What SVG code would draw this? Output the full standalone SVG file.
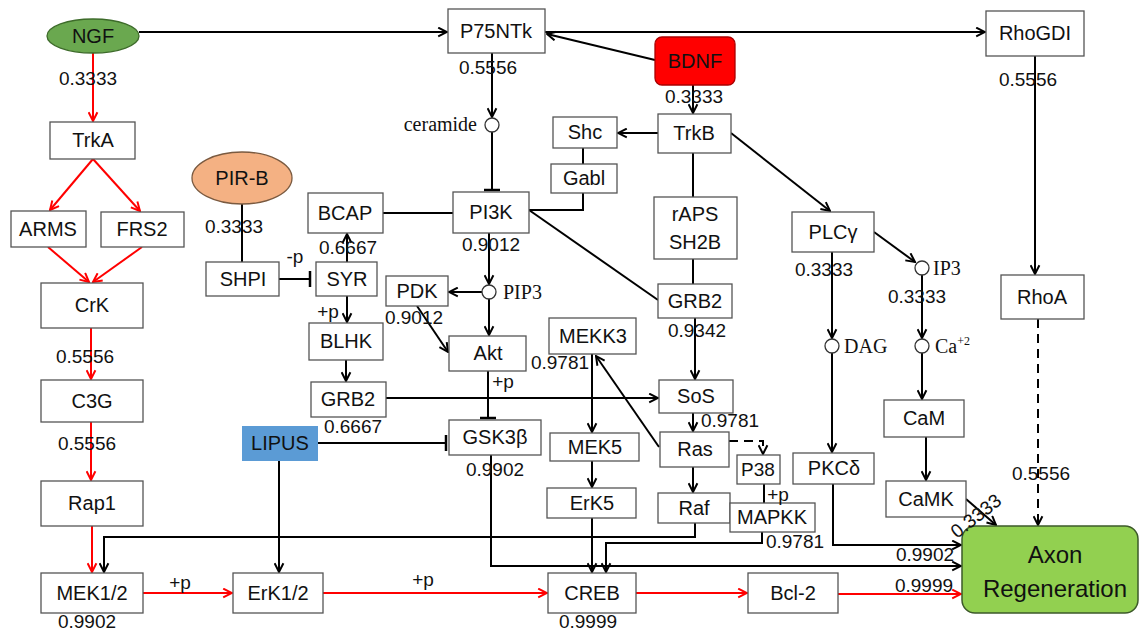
<svg xmlns="http://www.w3.org/2000/svg" width="1140" height="631" viewBox="0 0 1140 631">
<style>
.b{fill:#fff;stroke:#555;stroke-width:1.3}
.t{font-family:"Liberation Sans",Arial,sans-serif;font-size:20px;fill:#111;text-anchor:middle}
.n{font-family:"Liberation Sans",Arial,sans-serif;font-size:19px;fill:#111;text-anchor:middle}
.s{font-family:"Liberation Serif","Times New Roman",serif;font-size:20px;fill:#111}
.c{fill:#fff;stroke:#333;stroke-width:1.3}
.k{fill:none;stroke:#000;stroke-width:2}
.r{fill:none;stroke:#f00;stroke-width:2}
.a{marker-end:url(#ab)}
.ar{marker-end:url(#ar)}
.i{marker-end:url(#tb)}
.d{stroke-dasharray:9,6}
</style>
<defs>
<marker id="ab" viewBox="0 0 10 10" refX="9" refY="5" markerWidth="11" markerHeight="11" markerUnits="userSpaceOnUse" orient="auto"><path d="M1,1 L9,5 L1,9" fill="none" stroke="#000" stroke-width="1.8"/></marker>
<marker id="ar" viewBox="0 0 10 10" refX="9" refY="5" markerWidth="11" markerHeight="11" markerUnits="userSpaceOnUse" orient="auto"><path d="M1,1 L9,5 L1,9" fill="none" stroke="#f00" stroke-width="1.8"/></marker>
<marker id="tb" viewBox="0 0 4 16" refX="2" refY="8" markerWidth="4" markerHeight="16" markerUnits="userSpaceOnUse" orient="auto"><line x1="2" y1="0" x2="2" y2="16" stroke="#000" stroke-width="2.5"/></marker>
</defs>
<g id="connectors">
<path class="k a" d="M139,32 H447"/>
<path class="k a" d="M545,32 H985"/>
<path class="k a" d="M655,60 L547,34"/>
<path class="k a" d="M693,85 V113"/>
<path class="k a" d="M492,53 V117"/>
<path class="k i" d="M492,132 V190"/>
<path class="k a" d="M658,133 H618"/>
<path class="k" d="M583,148 V164"/>
<path class="k" d="M583,193 V210 H529"/>
<path class="k" d="M693,153 V197"/>
<path class="k" d="M693,259 V284"/>
<path class="k a" d="M731,133 L830,211"/>
<path class="k" d="M529,210 L658,300"/>
<path class="k" d="M383,213 H453"/>
<path class="k a" d="M489,233 V284"/>
<path class="k a" d="M482,292 H449"/>
<path class="k a" d="M489,299 V335"/>
<path class="k a" d="M417,306 L448,352"/>
<path class="k i" d="M488,371 V418"/>
<path class="k" d="M242,204 V262"/>
<path class="k i" d="M279,279 H310"/>
<path class="k a" d="M347,262 V234"/>
<path class="k a" d="M347,296 V322"/>
<path class="k a" d="M346,360 V381"/>
<path class="k a" d="M386,398 H658"/>
<path class="k a" d="M695,318 V379"/>
<path class="k a" d="M693,413 V431"/>
<path class="k a" d="M659,447 L596,356"/>
<path class="k a" d="M592,354 V432"/>
<path class="k a" d="M592,461 V487"/>
<path class="k a" d="M693,467 V492"/>
<path class="k a d" d="M729,441 H763 V454"/>
<path class="k" d="M764,484 V503"/>
<path class="k a" d="M695,523 V537 H104 V572"/>
<path class="k a" d="M762,532 V543 H606 V572"/>
<path class="k a" d="M592,518 V572"/>
<path class="k a" d="M491,455 V566 H961"/>
<path class="k a" d="M833,484 V545 H961"/>
<path class="k i" d="M318,443 H446"/>
<path class="k a" d="M279,461 V572"/>
<path class="k a" d="M832,252 V338"/>
<path class="k a" d="M832,353 V452"/>
<path class="k a" d="M874,232 L915,262"/>
<path class="k a" d="M922,275 V338"/>
<path class="k a" d="M922,353 V399"/>
<path class="k a" d="M926,437 V480"/>
<path class="k a" d="M966,499 L996,525"/>
<path class="k a" d="M1035,56 V274"/>
<path class="k a d" d="M1038,319 V525"/>
<path class="r ar" d="M93,53 V121"/>
<path class="r ar" d="M93,159 L50,210"/>
<path class="r ar" d="M93,159 L140,211"/>
<path class="r ar" d="M48,247 L89,282"/>
<path class="r ar" d="M142,247 L93,282"/>
<path class="r ar" d="M91,328 V379"/>
<path class="r ar" d="M91,422 V480"/>
<path class="r ar" d="M92,526 V572"/>
<path class="r ar" d="M143,593 H232"/>
<path class="r ar" d="M323,593 H547"/>
<path class="r ar" d="M636,593 H747"/>
<path class="r ar" d="M838,594 H961"/>
</g>
<g id="NGF"><ellipse cx="93" cy="36" rx="46" ry="17" fill="#6aa84f" stroke="#3d6b2a" stroke-width="1.3"/><text class="t" x="93" y="43">NGF</text></g>
<g id="P75NTk"><rect class="b" x="448" y="9" width="97" height="44"/><text class="t" x="496" y="38">P75NTk</text></g>
<g id="RhoGDI"><rect class="b" x="986" y="11" width="98" height="45"/><text class="t" x="1035" y="40">RhoGDI</text></g>
<g id="BDNF"><rect x="655" y="37" width="80" height="48" rx="7" fill="#f00" stroke="#a00" stroke-width="1.3"/><text class="t" x="695" y="68">BDNF</text></g>
<g id="TrkB"><rect class="b" x="658" y="114" width="73" height="39"/><text class="t" x="694" y="140">TrkB</text></g>
<g id="Shc"><rect class="b" x="553" y="117" width="64" height="31"/><text class="t" x="585" y="139">Shc</text></g>
<g id="Gabl"><rect class="b" x="551" y="164" width="66" height="29"/><text class="t" x="584" y="185">Gabl</text></g>
<g id="ceramide"><circle class="c" cx="492" cy="125" r="7"/><text class="s" x="477" y="131" text-anchor="end">ceramide</text></g>
<g id="PI3K"><rect class="b" x="453" y="192" width="76" height="41"/><text class="t" x="491" y="219">PI3K</text></g>
<g id="rAPS"><rect class="b" x="654" y="197" width="83" height="62"/><text class="t" x="695" y="221">rAPS</text><text class="t" x="695" y="249">SH2B</text></g>
<g id="GRB2b"><rect class="b" x="658" y="284" width="74" height="34"/><text class="t" x="695" y="308">GRB2</text></g>
<g id="PLCg"><rect class="b" x="792" y="212" width="82" height="40"/><text class="t" x="833" y="239">PLCγ</text></g>
<g id="IP3"><circle class="c" cx="922" cy="268" r="7"/><text class="s" x="933" y="275">IP3</text></g>
<g id="DAG"><circle class="c" cx="832" cy="346" r="7"/><text class="s" x="844" y="353">DAG</text></g>
<g id="Ca"><circle class="c" cx="922" cy="346" r="7"/><text class="s" x="935" y="353">Ca<tspan font-size="12" dy="-8">+2</tspan></text></g>
<g id="CaM"><rect class="b" x="884" y="400" width="80" height="37"/><text class="t" x="924" y="425">CaM</text></g>
<g id="CaMK"><rect class="b" x="886" y="481" width="80" height="36"/><text class="t" x="926" y="506">CaMK</text></g>
<g id="PKCd"><rect class="b" x="793" y="453" width="81" height="31"/><text class="t" x="834" y="475">PKCδ</text></g>
<g id="RhoA"><rect class="b" x="1001" y="275" width="83" height="44"/><text class="t" x="1042" y="304">RhoA</text></g>
<g id="Axon"><rect x="962" y="526" width="176" height="87" rx="13" fill="#92d050" stroke="#3d5a2a" stroke-width="1.5"/><text class="t" x="1055" y="563" style="font-size:24px">Axon</text><text class="t" x="1055" y="597" style="font-size:24px">Regeneration</text></g>
<g id="TrkA"><rect class="b" x="50" y="122" width="85" height="37"/><text class="t" x="93" y="147">TrkA</text></g>
<g id="ARMS"><rect class="b" x="11" y="211" width="75" height="36"/><text class="t" x="48" y="236">ARMS</text></g>
<g id="FRS2"><rect class="b" x="101" y="212" width="83" height="35"/><text class="t" x="142" y="236">FRS2</text></g>
<g id="CrK"><rect class="b" x="41" y="283" width="102" height="45"/><text class="t" x="92" y="312">CrK</text></g>
<g id="C3G"><rect class="b" x="41" y="380" width="102" height="42"/><text class="t" x="92" y="408">C3G</text></g>
<g id="Rap1"><rect class="b" x="41" y="481" width="102" height="45"/><text class="t" x="92" y="510">Rap1</text></g>
<g id="MEK12"><rect class="b" x="41" y="573" width="102" height="40"/><text class="t" x="92" y="600">MEK1/2</text></g>
<g id="ErK12"><rect class="b" x="233" y="573" width="90" height="40"/><text class="t" x="278" y="600">ErK1/2</text></g>
<g id="CREB"><rect class="b" x="548" y="573" width="88" height="40"/><text class="t" x="592" y="600">CREB</text></g>
<g id="Bcl2"><rect class="b" x="748" y="573" width="90" height="40"/><text class="t" x="793" y="600">Bcl-2</text></g>
<g id="PIRB"><ellipse cx="242" cy="178" rx="50" ry="26" fill="#f4b183" stroke="#7a5a40" stroke-width="1.3"/><text class="t" x="242" y="185">PIR-B</text></g>
<g id="SHPI"><rect class="b" x="206" y="262" width="73" height="34"/><text class="t" x="243" y="286">SHPI</text></g>
<g id="BCAP"><rect class="b" x="308" y="193" width="75" height="40"/><text class="t" x="345" y="220">BCAP</text></g>
<g id="SYR"><rect class="b" x="316" y="262" width="61" height="34"/><text class="t" x="347" y="286">SYR</text></g>
<g id="BLHK"><rect class="b" x="309" y="323" width="74" height="37"/><text class="t" x="346" y="348">BLHK</text></g>
<g id="GRB2a"><rect class="b" x="311" y="382" width="75" height="35"/><text class="t" x="348" y="406">GRB2</text></g>
<g id="PDK"><rect class="b" x="386" y="276" width="62" height="30"/><text class="t" x="417" y="298">PDK</text></g>
<g id="PIP3"><circle class="c" cx="489" cy="292" r="7"/><text class="s" x="503" y="299">PIP3</text></g>
<g id="Akt"><rect class="b" x="449" y="336" width="77" height="35"/><text class="t" x="488" y="360">Akt</text></g>
<g id="LIPUS"><rect x="242" y="426" width="76" height="35" fill="#5b9bd5"/><text class="t" x="280" y="450">LIPUS</text></g>
<g id="GSK3b"><rect class="b" x="449" y="420" width="92" height="35"/><text class="t" x="495" y="444">GSK3β</text></g>
<g id="MEKK3"><rect class="b" x="549" y="318" width="87" height="36"/><text class="t" x="593" y="343">MEKK3</text></g>
<g id="MEK5"><rect class="b" x="550" y="433" width="89" height="28"/><text class="t" x="595" y="454">MEK5</text></g>
<g id="ErK5"><rect class="b" x="547" y="488" width="89" height="30"/><text class="t" x="592" y="510">ErK5</text></g>
<g id="SoS"><rect class="b" x="659" y="380" width="74" height="33"/><text class="t" x="696" y="403">SoS</text></g>
<g id="Ras"><rect class="b" x="660" y="432" width="69" height="35"/><text class="t" x="695" y="456">Ras</text></g>
<g id="Raf"><rect class="b" x="658" y="493" width="72" height="30"/><text class="t" x="694" y="515">Raf</text></g>
<g id="P38"><rect class="b" x="737" y="455" width="43" height="29"/><text class="t" x="758" y="476" style="font-size:19px">P38</text></g>
<g id="MAPKK"><rect class="b" x="730" y="503" width="85" height="29"/><text class="t" x="772" y="524">MAPKK</text></g>
<g id="labels">
<text class="n" x="88" y="85">0.3333</text>
<text class="n" x="488" y="74">0.5556</text>
<text class="n" x="694" y="103">0.3333</text>
<text class="n" x="1028" y="86">0.5556</text>
<text class="n" x="234" y="233">0.3333</text>
<text class="n" x="348" y="254">0.6667</text>
<text class="n" x="491" y="251">0.9012</text>
<text class="n" x="414" y="324">0.9012</text>
<text class="n" x="697" y="337">0.9342</text>
<text class="n" x="824" y="276">0.3333</text>
<text class="n" x="917" y="303">0.3333</text>
<text class="n" x="85" y="363">0.5556</text>
<text class="n" x="560" y="369">0.9781</text>
<text class="n" x="353" y="433">0.6667</text>
<text class="n" x="730" y="427">0.9781</text>
<text class="n" x="87" y="450">0.5556</text>
<text class="n" x="495" y="476">0.9902</text>
<text class="n" x="1041" y="480">0.5556</text>
<text class="n" x="795" y="548">0.9781</text>
<text class="n" x="925" y="561">0.9902</text>
<text class="n" x="924" y="592">0.9999</text>
<text class="n" x="87" y="628">0.9902</text>
<text class="n" x="588" y="628">0.9999</text>
<text class="n" transform="translate(980,521) rotate(-38)" x="0" y="0">0.3333</text>
<text class="n" x="180" y="589">+p</text>
<text class="n" x="423" y="586">+p</text>
<text class="n" x="503" y="388">+p</text>
<text class="n" x="328" y="318">+p</text>
<text class="n" x="778" y="501">+p</text>
<text class="n" x="295" y="263">-p</text>
</g>
</svg>
